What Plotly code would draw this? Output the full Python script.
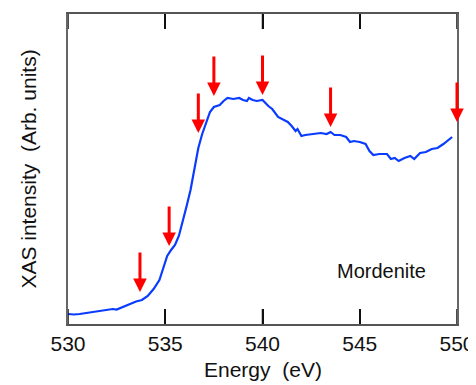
import plotly.graph_objects as go

energy = [530.0, 530.3, 530.6, 530.9, 531.2, 531.6, 532.0, 532.3, 532.5, 532.8, 533.2, 533.5, 533.8,
          534.1, 534.4, 534.7, 534.9, 535.1, 535.3, 535.5, 535.7, 535.9, 536.1, 536.3, 536.5, 536.7,
          536.9, 537.1, 537.3, 537.5, 537.8, 538.0, 538.2, 538.5, 538.8, 539.0, 539.2, 539.3, 539.5,
          539.7, 540.0, 540.3, 540.5, 540.8, 541.0, 541.3, 541.5, 541.7, 541.8, 542.0, 542.2, 542.5,
          543.0, 543.3, 543.5, 543.7, 544.0, 544.3, 544.5, 544.7, 545.0, 545.3, 545.5, 545.7, 546.0,
          546.4, 546.6, 546.8, 547.0, 547.3, 547.6, 547.8, 548.1, 548.4, 548.7, 549.0, 549.3, 549.75]
intensity = [0.10, 0.095, 0.10, 0.11, 0.115, 0.13, 0.145, 0.15, 0.145, 0.17, 0.20, 0.225, 0.24,
             0.28, 0.35, 0.44, 0.56, 0.68, 0.74, 0.79, 0.88, 1.02, 1.18, 1.34, 1.55, 1.76,
             1.90, 2.02, 2.12, 2.17, 2.19, 2.23, 2.26, 2.25, 2.26, 2.24, 2.23, 2.26, 2.24,
             2.23, 2.24, 2.18, 2.15, 2.07, 2.05, 2.02, 1.98, 1.93, 1.95, 1.88, 1.89, 1.90,
             1.91, 1.90, 1.92, 1.89, 1.89, 1.87, 1.82, 1.83, 1.82, 1.80, 1.73, 1.69, 1.70,
             1.70, 1.65, 1.66, 1.63, 1.66, 1.68, 1.65, 1.71, 1.72, 1.75, 1.76, 1.80, 1.87]

arrow_energy = [533.7, 535.2, 536.7, 537.5, 540.0, 543.5, 550.0]
arrow_tip = [0.32, 0.78, 1.91, 2.28, 2.29, 1.97, 2.02]

x_ticks = [530, 535, 540, 545, 550]
sample_label = "Mordenite"
x_title = "Energy  (eV)"
y_title = "XAS intensity  (Arb. units)"

Y_RANGE = [0, 3.10]
FONT = "Liberation Sans, Arial, sans-serif"
PLOT_H = 310          # plot-area height in px
TICK_PX = 15          # inward tick length in px
tick_len = TICK_PX / PLOT_H * (Y_RANGE[1] - Y_RANGE[0])

fig = go.Figure()

fig.add_trace(go.Scatter(x=energy, y=intensity, mode="lines",
                         line=dict(color="#0a3cff", width=2.2), showlegend=False))

# inward tick marks on bottom and top edges, drawn at the tick values
for t in x_ticks:
    fig.add_shape(type="line", xref="x", yref="y", x0=t, x1=t,
                  y0=Y_RANGE[0], y1=Y_RANGE[0] + tick_len,
                  line=dict(color="#111", width=1.5), layer="above")
    fig.add_shape(type="line", xref="x", yref="y", x0=t, x1=t,
                  y0=Y_RANGE[1], y1=Y_RANGE[1] - tick_len,
                  line=dict(color="#111", width=1.5), layer="above")

for e, t in zip(arrow_energy, arrow_tip):
    fig.add_annotation(x=e, y=t, xref="x", yref="y", ax=0, ay=-41, text="",
                       showarrow=True, arrowhead=2, arrowsize=0.9, arrowwidth=3,
                       arrowcolor="#ff0000", standoff=0)

fig.add_annotation(x=546.1, y=0.53, xref="x", yref="y", text=sample_label, showarrow=False,
                   font=dict(family=FONT, size=20, color="#111"))

fig.add_annotation(x=0.5, y=0, xref="paper", yref="paper", yanchor="middle", yshift=-45,
                   text=x_title, showarrow=False, font=dict(family=FONT, size=21, color="#111"))

# page body has an 8px default margin, so the figure is 8px smaller than the window
fig.update_layout(
    template="none",
    width=468, height=377,
    margin=dict(l=60, r=19, t=6, b=61),
    paper_bgcolor="white", plot_bgcolor="white",
    font=dict(family=FONT, size=21, color="#111"),
    xaxis=dict(range=[530, 550], tickmode="array", tickvals=x_ticks, ticks="inside",
               ticklen=TICK_PX, tickwidth=1.5, tickcolor="#111",
               showline=True, linecolor="#555", linewidth=1.5,
               mirror="allticks", showgrid=False, zeroline=False, automargin=False,
               tickfont=dict(size=21)),
    yaxis=dict(range=Y_RANGE, showticklabels=False, ticks="", showline=True, linecolor="#666",
               linewidth=1.5, mirror=True, showgrid=False, zeroline=False, automargin=False,
               title=dict(text=y_title, standoff=24, font=dict(size=21))),
)

fig.write_html("out.html")
